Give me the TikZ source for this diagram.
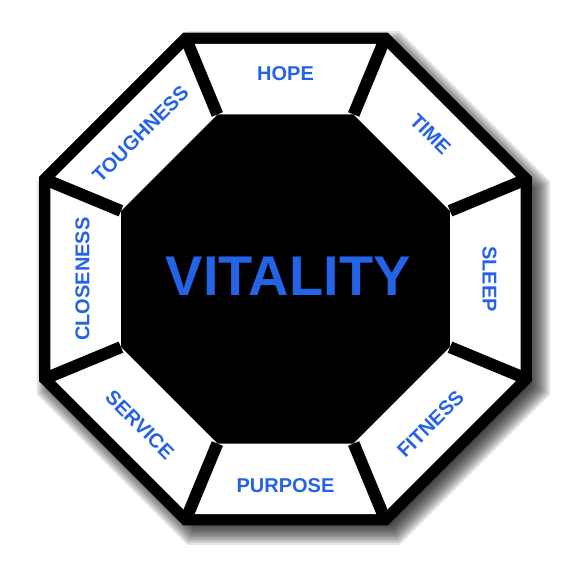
\documentclass[tikz,border=0pt]{standalone}
\usepackage{fontspec}
\setmainfont{Liberation Sans}
\usepackage{tikz}
\usepackage{xcolor}
\definecolor{vblue}{RGB}{36,98,230}
\tikzset{
  % white ring segment
  SG/.style={fill=white},
  % black separator between segments
  SP/.style={draw=black,line width=12pt,line cap=butt,shorten >=10pt},
  % one layer of the soft shadow
  SH/.style={fill=black,opacity=0.1},
  % segment label
  LB/.style={text=vblue,inner sep=0pt,
             font=\fontsize{20}{20}\selectfont\bfseries},
  % centre title
  TT/.style={text=vblue,inner sep=0pt,
             font=\fontsize{56}{56}\selectfont\bfseries},
}
\begin{document}
\begin{tikzpicture}[x=1pt,y=1pt]
      \useasboundingbox (-285.5,-283) rectangle (291.5,279);
      % soft shadow, bottom right
      \foreach \r in {254,256,...,278}
        \fill[SH,shift={(8,-9)}] (22.5:\r)
          \foreach \a in {67.5,112.5,...,337.5}{ -- (\a:\r)} -- cycle;
      % corner points: rim, white outer edge, white inner edge
      \foreach \k in {1,...,8} {
        \pgfmathsetmacro\ang{22.5+45*(\k-1)}
        \coordinate (o\k) at (\ang:266.8);
        \coordinate (w\k) at (\ang:254.4);
        \coordinate (i\k) at (\ang:178.1);
      }
      % black body
      \fill[black] (o1)--(o2)--(o3)--(o4)--(o5)--(o6)--(o7)--(o8)--cycle;
      % white segments
      \fill[SG] (i2)--(w2)--(w3)--(i3)--cycle;
      \fill[SG] (i1)--(w1)--(w2)--(i2)--cycle;
      \fill[SG] (i8)--(w8)--(w1)--(i1)--cycle;
      \fill[SG] (i7)--(w7)--(w8)--(i8)--cycle;
      \fill[SG] (i6)--(w6)--(w7)--(i7)--cycle;
      \fill[SG] (i5)--(w5)--(w6)--(i6)--cycle;
      \fill[SG] (i4)--(w4)--(w5)--(i5)--cycle;
      \fill[SG] (i3)--(w3)--(w4)--(i4)--cycle;
      % separators
      \draw[SP] (i1)--(o1);
      \draw[SP] (i2)--(o2);
      \draw[SP] (i3)--(o3);
      \draw[SP] (i4)--(o4);
      \draw[SP] (i5)--(o5);
      \draw[SP] (i6)--(o6);
      \draw[SP] (i7)--(o7);
      \draw[SP] (i8)--(o8);
      % labels
      \node[LB] at (90:205) (hope) {HOPE};
      \node[LB,rotate=-45] at (45:205) (time) {TIME};
      \node[LB,rotate=-90] at (0:204) (sleep) {SLEEP};
      \node[LB,rotate=45] at (-45:205) (fit) {FITNESS};
      \node[LB] at (-90:207) (purp) {PURPOSE};
      \node[LB,rotate=-45] at (-135:206) (serv) {SERVICE};
      \node[LB,rotate=90] at (180:203) (close) {CLOSENESS};
      \node[LB,rotate=45] at (135:205) (tough) {TOUGHNESS};
      \node[TT] at (2.8,2.8) (vit) {VITALITY};
    \end{tikzpicture}
\end{document}
